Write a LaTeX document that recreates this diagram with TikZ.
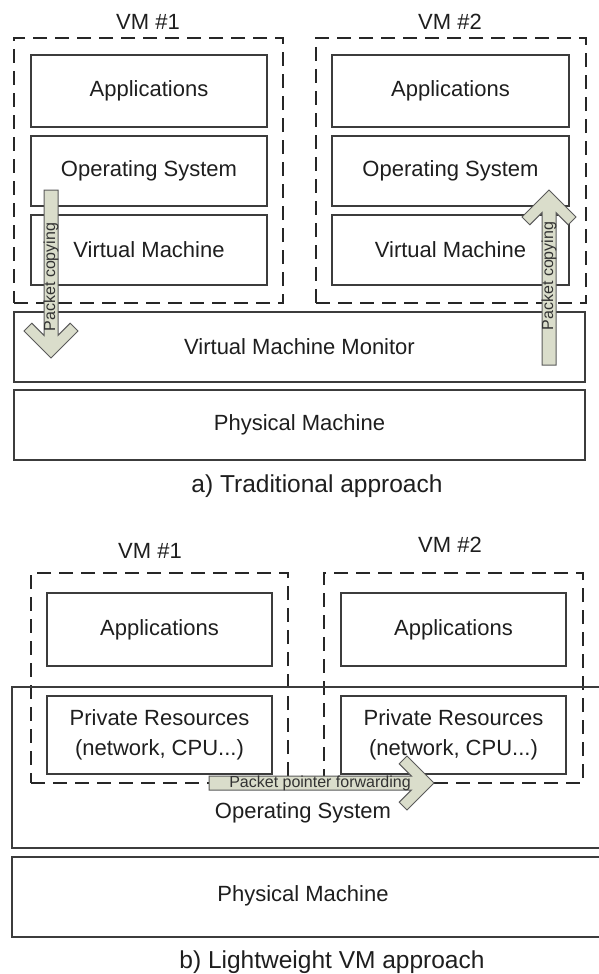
\documentclass[tikz,border=0pt]{standalone}
\usepackage{fontspec}
\setmainfont{Liberation Sans}
\definecolor{boxline}{HTML}{3C3C3C}
\definecolor{arrowfill}{HTML}{DADDCB}
\definecolor{arrowline}{HTML}{5A5A5A}
\definecolor{inktext}{HTML}{1E1E1E}
\tikzset{
  layer/.style={draw=boxline, line width=1.4pt, inner sep=0pt, outer sep=0pt,
    anchor=north west, text=inktext, font=\fontsize{22}{30}\selectfont, align=center},
  vmframe/.style={draw=black!85, line width=1.2pt, dash pattern=on 14pt off 8pt,
    anchor=north west, inner sep=0pt, outer sep=0pt},
  labeltext/.style={text=inktext, font=\fontsize{22}{30}\selectfont, inner sep=0pt, align=center},
  caption/.style={text=inktext, font=\fontsize{24.5}{28}\selectfont, inner sep=0pt},
  fatarrow/.style={draw=arrowline, fill=arrowfill, line width=1pt, line join=miter},
  arrowtext/.style={text=black!80, font=\fontsize{16}{18}\selectfont, inner sep=0pt},
  % block arrow with a chevron head; tip at the origin, pointing along +x
  pics/chevron/.style={code={
    \draw[fatarrow] (0,0) -- (-27,27) -- (-34.78,19.22) -- (-22.56,7) -- (-#1,7)
      -- (-#1,-7) -- (-22.56,-7) -- (-34.78,-19.22) -- (-27,-27) -- cycle;
  }},
}
\begin{document}
\begin{tikzpicture}[x=1pt,y=-1pt]
\useasboundingbox (0,0) rectangle (599,974);
\clip (0,0) rectangle (599,974);

% ---------- a) traditional approach ----------
\node[labeltext] (vm1lbl) at (148,22) {VM \#1};
\node[labeltext] (vm2lbl) at (450,22) {VM \#2};
\node[vmframe, minimum width=269pt, minimum height=265pt] (frameA) at (14,38) {};
\node[vmframe, minimum width=270pt, minimum height=265pt] (frameB) at (316,38) {};

\node[layer, minimum width=236pt, minimum height=72pt] (appA) at (31,55) {Applications};
\node[layer, minimum width=236pt, minimum height=70pt] (osA) at (31,136) {Operating System};
\node[layer, minimum width=236pt, minimum height=70pt] (vmA) at (31,215) {Virtual Machine};
\node[layer, minimum width=237pt, minimum height=72pt] (appB) at (332,55) {Applications};
\node[layer, minimum width=237pt, minimum height=70pt] (osB) at (332,136) {Operating System};
\node[layer, minimum width=237pt, minimum height=70pt] (vmB) at (332,215) {Virtual Machine};

\node[layer, minimum width=571pt, minimum height=70pt] (vmm) at (14,312) {Virtual Machine Monitor};
\node[layer, minimum width=571pt, minimum height=70pt] (pmA) at (14,390) {Physical Machine};

\coordinate (downtip) at (51,358);
\coordinate (uptip) at (549,190);
\pic[rotate=-90] at (downtip) {chevron=168};
\pic[rotate=90] at (uptip) {chevron=175};
\node[arrowtext, rotate=90] (downtxt) at (51,277) {Packet copying};
\node[arrowtext, rotate=90] (uptxt) at (549,276) {Packet copying};

\node[caption] (capA) at (317,486) {a) Traditional approach};

% ---------- b) lightweight VM approach ----------
\node[labeltext] (vm1lblb) at (150,551) {VM \#1};
\node[labeltext] (vm2lblb) at (450,545) {VM \#2};
\node[vmframe, minimum width=257pt, minimum height=210pt] (frameC) at (31,573) {};
\node[vmframe, minimum width=259pt, minimum height=210pt] (frameD) at (324,573) {};

\node[layer, minimum width=225pt, minimum height=73pt] (appC) at (47,593) {Applications};
\node[layer, minimum width=225pt, minimum height=73pt] (appD) at (341,593) {Applications};

\node[layer, minimum width=600pt, minimum height=161pt] (osHost) at (12,687) {};
\node[labeltext] (osHostTxt) at (303,813) {Operating System};
\node[layer, minimum width=225pt, minimum height=78pt] (privC) at (47,696) {Private Resources\\(network, CPU...)};
\node[layer, minimum width=225pt, minimum height=78pt] (privD) at (341,696) {Private Resources\\(network, CPU...)};

\node[layer, minimum width=600pt, minimum height=80pt] (pmB) at (12,857) {};
\node[labeltext] (pmBTxt) at (303,896) {Physical Machine};

\coordinate (fwdtip) at (434,783);
\pic at (fwdtip) {chevron=225};
\node[arrowtext] (fwdtxt) at (320,783) {Packet pointer forwarding};

\node[caption] (capB) at (332,962) {b) Lightweight VM approach};
\end{tikzpicture}
\end{document}
